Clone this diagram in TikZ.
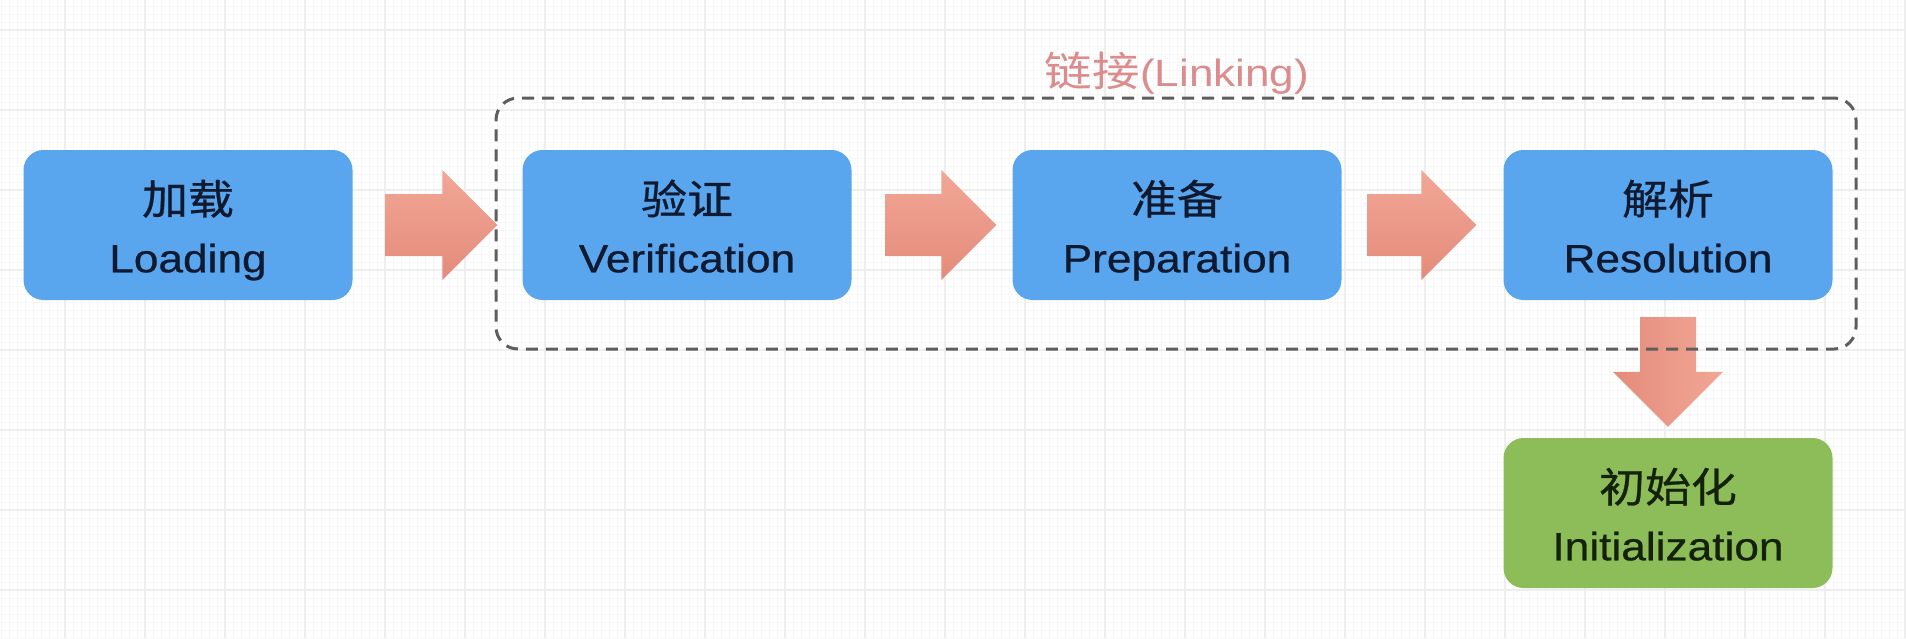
\documentclass[tikz,border=0pt]{standalone}
\usepackage{fontspec}
\setmainfont[FakeBold=0.6,AutoFakeBold=0.6]{Liberation Sans}
\newfontfamily\cjk[AutoFakeBold=0.6]{Noto Sans CJK SC}
\newfontfamily\cjklight{Noto Sans CJK SC}
\newfontfamily\latinlight{Liberation Sans}
\usetikzlibrary{calc}

\definecolor{boxblue}{HTML}{5AA6EE}
\definecolor{boxgreen}{HTML}{8DBD59}
\definecolor{txtblue}{HTML}{0F1A30}
\definecolor{txtgreen}{HTML}{14210B}
\definecolor{arrlight}{HTML}{F2A796}
\definecolor{arrdark}{HTML}{E48B7B}
\definecolor{dashgray}{HTML}{5E5E5E}
\definecolor{linkred}{HTML}{DC8C8C}
\definecolor{gridminor}{HTML}{F7F7F7}
\definecolor{gridmajor}{HTML}{EEEEEE}

\newcommand{\boxtext}[2]{\scalebox{1.12}[1]{\fontsize{39.5}{58}\selectfont\begin{tabular}{@{}c@{}}\rule{0pt}{54pt}{\cjk\fontsize{41}{58}\selectfont\bfseries #1}\\ \bfseries #2\end{tabular}}}

\newcommand{\harrow}[2]{\path[harr] let \p1=#1, \p2=#2 in
  (\x1,\y1+31pt) -- (\x2-55pt,\y1+31pt) -- (\x2-55pt,\y1+55pt) -- (\x2,\y1)
  -- (\x2-55pt,\y1-55pt) -- (\x2-55pt,\y1-31pt) -- (\x1,\y1-31pt) -- cycle;}
\newcommand{\varrow}[2]{\path[varr] let \p1=#1, \p2=#2 in
  (\x1-28pt,\y1) -- (\x1-28pt,\y2+55pt) -- (\x1-55pt,\y2+55pt) -- (\x1,\y2)
  -- (\x1+55pt,\y2+55pt) -- (\x1+28pt,\y2+55pt) -- (\x1+28pt,\y1) -- cycle;}

\begin{document}
\begin{tikzpicture}[x=1pt,y=-1pt,
  stage/.style={rounded corners=20pt, minimum width=329pt, minimum height=150pt,
    inner sep=0pt, fill=boxblue, text=txtblue},
  stagegreen/.style={stage, fill=boxgreen, text=txtgreen},
  harr/.style={top color=arrlight, bottom color=arrdark},
  varr/.style={left color=arrdark, right color=arrlight},
  linkbox/.style={draw=dashgray, line width=3pt, dash pattern=on 12pt off 8pt,
    rounded corners=22pt, minimum width=1360pt, minimum height=251pt, inner sep=0pt},
  minorgrid/.style={draw=gridminor, line width=0.7pt},
  majorgrid/.style={draw=gridmajor, line width=1.3pt}]

\useasboundingbox (0,0) rectangle (1906,638);
\fill[white] (0,0) rectangle (1906,638);
\foreach \i in {1,9,...,1906} \draw[minorgrid] (\i,0) -- (\i,638);
\foreach \j in {6,14,...,638} \draw[minorgrid] (0,\j) -- (1906,\j);
\foreach \i in {65,145,...,1906} \draw[majorgrid] (\i,0) -- (\i,638);
\foreach \j in {30,110,...,638} \draw[majorgrid] (0,\j) -- (1906,\j);

\node[stage] (load)  at (188,225)  {\boxtext{加载}{Loading}};
\node[stage] (verif) at (687,225)  {\boxtext{验证}{Verification}};
\node[stage] (prep)  at (1177,225) {\boxtext{准备}{Preparation}};
\node[stage] (resol) at (1668,225) {\boxtext{解析}{Resolution}};
\node[stagegreen] (init) at (1668,513) {\boxtext{初始化}{Initialization}};

\harrow{($(load.east)+(33,0)$)}{($(verif.west)+(-25,0)$)}
\harrow{($(verif.east)+(34,0)$)}{($(prep.west)+(-16,0)$)}
\harrow{($(prep.east)+(26,0)$)}{($(resol.west)+(-27,0)$)}
\varrow{($(resol.south)+(0,17)$)}{($(init.north)+(0,-11)$)}

\node[linkbox] (link) at (1176,223.5) {};
\node[text=linkred, inner sep=0pt] (linklabel) at (1177,73)
  {\scalebox{1.16}[1]{\latinlight\fontsize{38}{46}\selectfont{\cjklight\fontsize{41}{46}\selectfont 链接}(Linking)}};
\end{tikzpicture}
\end{document}
